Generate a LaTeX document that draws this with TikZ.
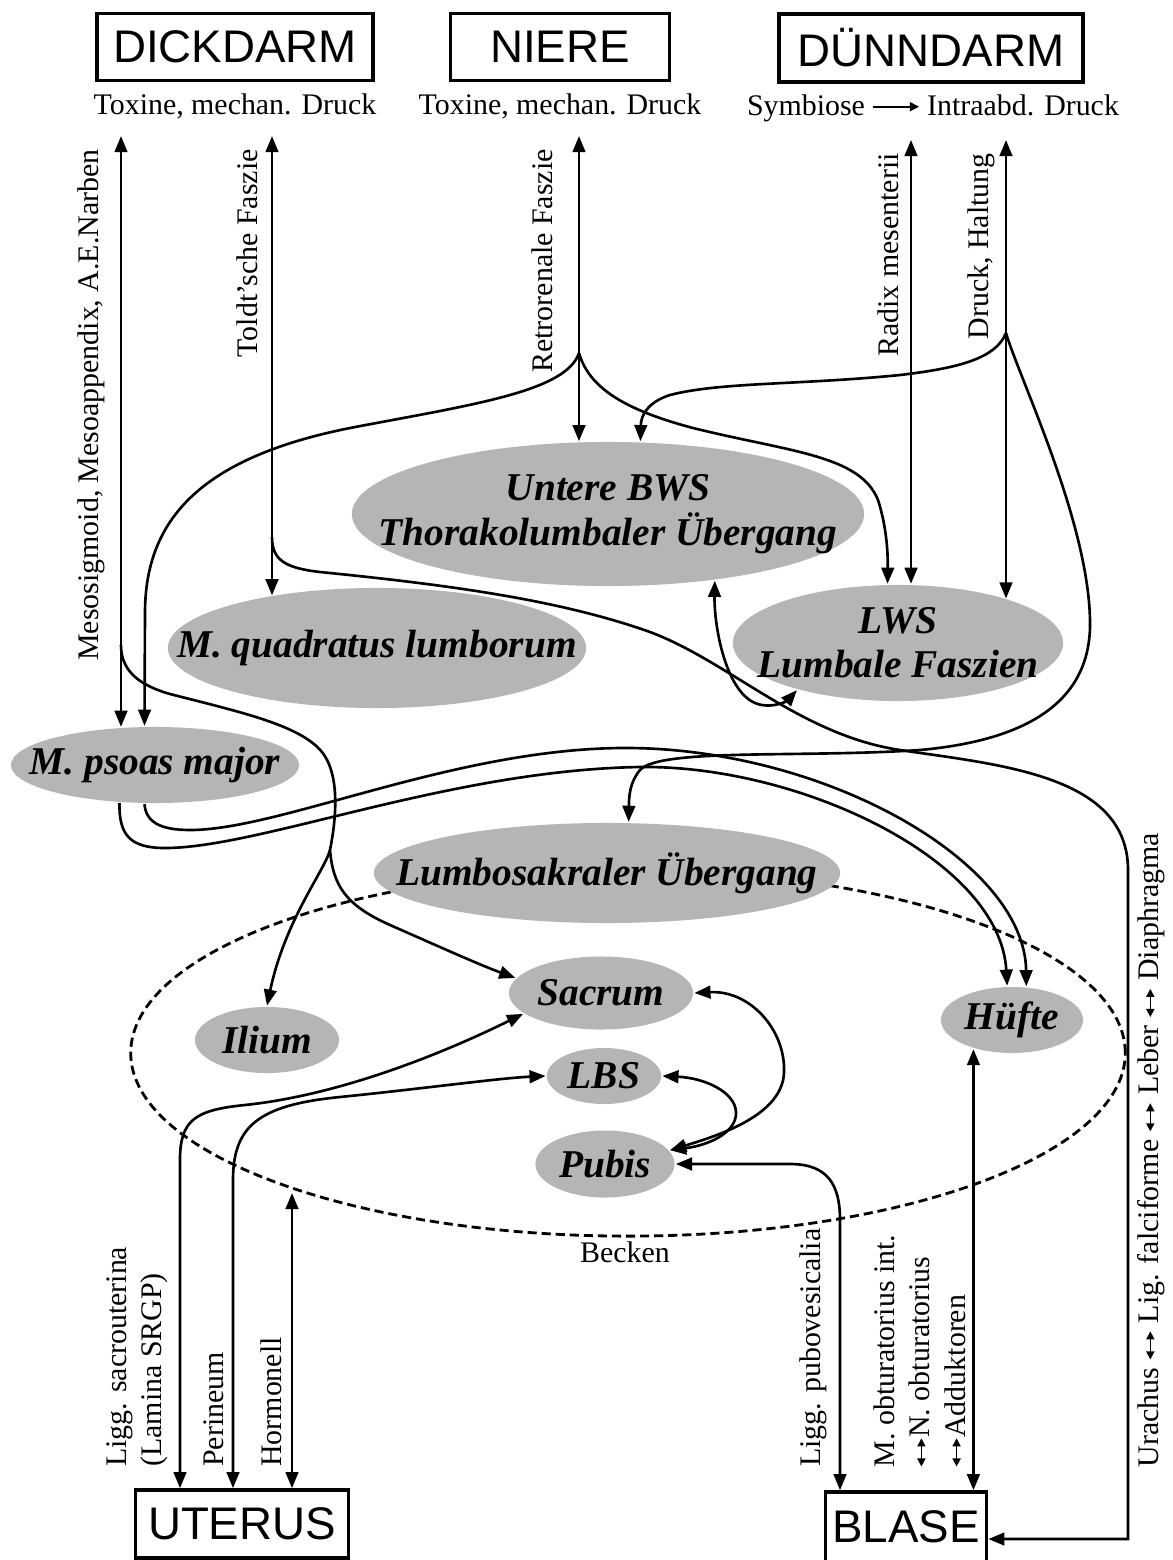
\documentclass[tikz,border=0pt]{standalone}
\usepackage{fontspec}
\setmainfont{Liberation Serif}
\setsansfont{Liberation Sans}
\usepackage{xcolor}
\usetikzlibrary{shapes.geometric,arrows.meta}
\definecolor{organgray}{gray}{0.71}
\newcommand{\tinyto}{\tikz[reset cm,x=1pt,y=1pt,baseline=-2.4pt]\draw[line width=0.45pt,-{Triangle[length=2.6pt,width=2.6pt]}] (0,0) -- (13,0);}
\newcommand{\tinyboth}{\tikz[reset cm,x=1pt,y=1pt,baseline=-2.4pt]\draw[line width=0.45pt,{Triangle[length=2.3pt,width=2.3pt]}-{Triangle[length=2.3pt,width=2.3pt]}] (0,0) -- (8,0);}

\begin{document}
\begin{tikzpicture}[x=0.01cm,y=0.01cm,line width=0.75pt,>={Triangle[length=4.6pt,width=3.6pt]}]
\tikzstyle{every node}+=[inner sep=0pt]
\tikzstyle{organ}=[draw,line width=1pt,font=\fontsize{13}{15}\sffamily\selectfont]
\tikzstyle{region}=[ellipse,fill=organgray]
\tikzstyle{regiontext}=[font=\fontsize{11.2}{12.6}\bfseries\itshape\selectfont,align=center]
\tikzstyle{note}=[font=\fontsize{8.5}{10}\selectfont]
\tikzstyle{upnote}=[note,rotate=90,anchor=south east]
\tikzstyle{downnote}=[note,rotate=90,anchor=south west,align=left]
\useasboundingbox (0,0) rectangle (1173,-1560);
\fill[white] (0,0) rectangle (1173,-1560);

\draw[line width=0.8pt,dash pattern=on 2.6pt off 1.4pt] (628,-1053) ellipse [x radius=4.97cm,y radius=1.83cm];

\node[organ,minimum width=2.76cm,minimum height=0.67cm] (dickdarm) at (235,-47) {DICKDARM};
\node[organ,minimum width=2.19cm,minimum height=0.67cm] (niere) at (560,-47) {NIERE};
\node[organ,minimum width=3.04cm,minimum height=0.68cm] (duenndarm) at (931,-48) {DÜNNDARM};
\node[organ,minimum width=2.13cm,minimum height=0.68cm] (uterus) at (242,-1524) {UTERUS};
\node[organ,minimum width=1.61cm,minimum height=0.70cm] (blase) at (906,-1527) {BLASE};

\node[note] (toxdick) at (235,-106) {Toxine, mechan. Druck};
\node[note] (toxniere) at (560,-106) {Toxine, mechan. Druck};
\node[note] (symbiose) at (933,-108) {Symbiose \tinyto{} Intraabd. Druck};

\node[region,minimum width=5.12cm,minimum height=1.44cm] (bws) at (608,-514) {};
\node[regiontext] (bwstext) at (bws) {Untere BWS\\Thorakolumbaler Übergang};
\node[region,minimum width=4.18cm,minimum height=1.20cm] (quadratus) at (377,-648) {};
\node[regiontext] (quadratustext) at (quadratus) {M. quadratus lumborum};
\node[region,minimum width=3.30cm,minimum height=1.16cm] (lws) at (898,-643) {};
\node[regiontext] (lwstext) at (lws) {LWS\\Lumbale Faszien};
\node[region,minimum width=2.88cm,minimum height=0.76cm] (psoas) at (155,-765) {};
\node[regiontext] (psoastext) at (psoas) {M. psoas major};
\node[region,minimum width=4.66cm,minimum height=1.00cm] (lumbo) at (607,-873) {};
\node[regiontext] (lumbotext) at (lumbo) {Lumbosakraler Übergang};
\node[region,minimum width=1.84cm,minimum height=0.73cm] (sacrum) at (601,-993) {};
\node[regiontext] (sacrumtext) at (sacrum) {Sacrum};
\node[region,minimum width=1.44cm,minimum height=0.66cm] (ilium) at (267,-1040) {};
\node[regiontext] (iliumtext) at (ilium) {Ilium};
\node[region,minimum width=1.14cm,minimum height=0.56cm] (lbs) at (604,-1076) {};
\node[regiontext] (lbstext) at (lbs) {LBS};
\node[region,minimum width=1.39cm,minimum height=0.67cm] (pubis) at (605,-1164) {};
\node[regiontext] (pubistext) at (pubis) {Pubis};
\node[region,minimum width=1.42cm,minimum height=0.66cm] (huefte) at (1012,-1020) {};
\node[regiontext] (hueftetext) at (huefte) {Hüfte};

\node[note] (becken) at (625,-1252) {Becken};
\node[upnote] (mesonote) at (106,-148) {Mesosigmoid, Mesoappendix, A.E.Narben};
\node[upnote] (toldtnote) at (259,-148) {Toldt’sche Faszie};
\node[upnote] (retronote) at (554,-148) {Retrorenale Faszie};
\node[upnote] (radixnote) at (900,-152) {Radix mesenterii};
\node[upnote] (drucknote) at (996,-152) {Druck, Haltung};
\node[note,rotate=90,anchor=north west] (urachusnote) at (1137,-1468) {Urachus \tinyboth{} Lig. falciforme \tinyboth{} Leber \tinyboth{} Diaphragma};
\node[downnote] (sacronote) at (169,-1468) {Ligg. sacrouterina\\(Lamina SRGP)};
\node[downnote] (perinote) at (225,-1468) {Perineum};
\node[downnote] (hormnote) at (283,-1468) {Hormonell};
\node[downnote] (pubonote) at (828,-1468) {Ligg. pubovesicalia};
\node[downnote] (obtunote) at (966,-1468) {M. obturatorius int.\\\tinyboth N. obturatorius\\\tinyboth Adduktoren};

\coordinate (tmeso) at (121,-136);
\coordinate (ttoldt) at (272,-136);
\coordinate (tretro) at (579,-136);
\coordinate (tradix) at (911,-140);
\coordinate (tdruck) at (1006,-140);
\coordinate (bmeso) at (121,-645);
\coordinate (btoldt) at (272,-537);
\coordinate (bretro) at (579,-353);
\coordinate (bdruck) at (1006,-333);
\coordinate (smeso) at (330,-850);
\coordinate (ucorner) at (1128,-870);
\coordinate (csacro) at (180,-1160);
\coordinate (cperi) at (233,-1180);
\coordinate (chorm) at (292,-1193);
\coordinate (cpubo) at (840,-1220);

\draw[<->] (tmeso) -- (tmeso |- psoas.133);
\draw[<->] (ttoldt) -- (ttoldt |- quadratus.154);
\draw[<->] (tretro) -- (tretro |- bws.113);
\draw[<->] (tradix) -- (tradix |- lws.79);
\draw[<->] (tdruck) -- (tdruck |- lws.22);

\draw[->] (bretro) .. controls (566,-392) and (470,-405) .. (350,-428) .. controls (200,-458) and (145,-520) .. (145,-613) -- (psoas.105);
\draw[->] (bretro) .. controls (589,-388) and (625,-410) .. (693,-428) .. controls (790,-452) and (860,-455) .. (878,-500) .. controls (886,-525) and (888,-550) .. (lws.100);
\draw[->] (bdruck) .. controls (996,-358) and (960,-368) .. (900,-375) .. controls (800,-385) and (720,-382) .. (670,-395) .. controls (648,-402) and (641,-415) .. (bws.66);
\draw[->] (bdruck) .. controls (1020,-380) and (1088,-520) .. (1090,-620) .. controls (1092,-700) and (1030,-740) .. (920,-750) .. controls (800,-758) and (660,-748) .. (640,-770) .. controls (630,-782) and (629,-795) .. (lumbo.67);
\draw[->] (btoldt) .. controls (272,-560) and (285,-568) .. (320,-572) .. controls (450,-585) and (560,-600) .. (650,-632) .. controls (730,-662) and (800,-735) .. (900,-750) .. controls (1000,-765) and (1128,-775) .. (ucorner) |- ([yshift=-1.2mm]blase.east);
\draw[<->] (bws.-32) .. controls (714,-625) and (725,-690) .. (755,-703) .. controls (772,-710) and (788,-700) .. (lws.205);

\draw[->] (psoas.227) .. controls (119,-835) and (130,-848) .. (165,-848) .. controls (260,-848) and (450,-770) .. (640,-767) .. controls (800,-765) and (1000,-860) .. (huefte.98);
\draw[->] (psoas.255) .. controls (146,-822) and (160,-830) .. (190,-830) .. controls (280,-830) and (450,-750) .. (620,-748) .. controls (820,-746) and (1025,-860) .. (huefte.67);

\draw (bmeso) .. controls (121,-668) and (135,-684) .. (170,-694) .. controls (240,-712) and (300,-725) .. (322,-752) .. controls (338,-772) and (338,-810) .. (smeso);
\draw[->] (smeso) .. controls (325,-870) and (285,-920) .. (ilium.north);
\draw[->] (smeso) .. controls (333,-885) and (345,-905) .. (390,-925) .. controls (440,-947) and (480,-965) .. (sacrum.170);

\draw[<->] (uterus.north -| csacro) -- (csacro) .. controls (180,-1120) and (195,-1110) .. (245,-1105) .. controls (350,-1094) and (460,-1045) .. (sacrum.195);
\draw[<->] (uterus.north -| cperi) -- (cperi) .. controls (233,-1125) and (260,-1105) .. (340,-1097) .. controls (420,-1089) and (500,-1078) .. (lbs.west);
\draw[<->] (uterus.north -| chorm) -- (chorm);
\draw[<->] (sacrum.east) .. controls (750,-990) and (786,-1030) .. (784,-1073) .. controls (782,-1115) and (720,-1135) .. (pubis.12);
\draw[<->] (lbs.east) .. controls (705,-1078) and (735,-1092) .. (736,-1112) .. controls (737,-1132) and (710,-1145) .. (pubis.12);
\draw[<->] (pubis.east) -- (790,-1164) .. controls (828,-1164) and (840,-1185) .. (cpubo) -- (blase.north -| cpubo);
\draw[<->] (huefte.217) -- (huefte.217 |- blase.north);
\end{tikzpicture}
\end{document}
